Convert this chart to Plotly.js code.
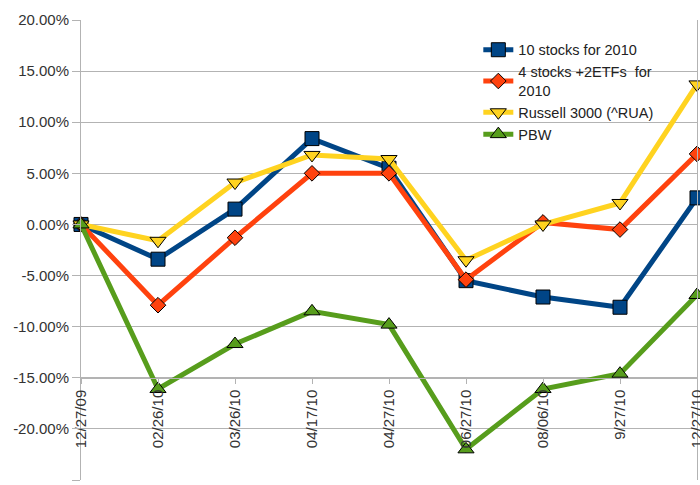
<!DOCTYPE html>
<html>
<head>
<meta charset="utf-8">
<script src="https://cdn.plot.ly/plotly-3.0.1.min.js"></script>
<style>html,body{margin:0;padding:0;background:#fff;}#chart{width:700px;height:485px;}</style>
</head>
<body>
<div id="chart"></div>
<script>
const dates = ["12/27/09","02/26/10","03/26/10","04/17/10","04/27/10","06/27/10","08/06/10","9/27/10","12/27/10"];
const tenStocks = [0, -3.4, 1.5, 8.4, 5.5, -5.5, -7.1, -8.1, 2.6];
const fourStocks = [0, -7.9, -1.3, 5.0, 5.0, -5.4, 0.2, -0.5, 6.9];
const russell = [0, -1.6, 4.1, 6.8, 6.4, -3.5, 0.0, 2.1, 13.7];
const pbw = [0, -16.1, -11.7, -8.5, -9.8, -22.0, -16.1, -14.6, -6.9];
const yTicks = [20, 15, 10, 5, 0, -5, -10, -15, -20, -25];

function series(name, y, color, symbol, size) {
  return {
    type: 'scatter', mode: 'lines+markers', name: name,
    x: dates, y: y,
    line: {color: color, width: 5},
    marker: {color: color, symbol: symbol, size: size, line: {color: '#000', width: 1}},
    cliponaxis: false
  };
}

const data = [
  series('10 stocks for 2010', tenStocks, '#004586', 'square', 14),
  series('4 stocks +2ETFs  for<br>2010', fourStocks, '#ff420e', 'diamond', 12),
  series('Russell 3000 (^RUA)', russell, '#ffd320', 'triangle-down', 14),
  series('PBW', pbw, '#579d1c', 'triangle-up', 14)
];

const layout = {
  width: 700, height: 485,
  margin: {l: 81, r: 3, t: 20, b: 5},
  paper_bgcolor: '#fff', plot_bgcolor: '#fff',
  font: {family: 'Liberation Sans, Arial, sans-serif', size: 15, color: '#333'},
  showlegend: true,
  legend: {
    x: 0.645, y: 0.97, xanchor: 'left', yanchor: 'top',
    bgcolor: 'rgba(0,0,0,0)', font: {size: 14.5, color: '#222'},
    tracegroupgap: 0, itemwidth: 30
  },
  xaxis: {
    type: 'category', range: [0, 8],
    anchor: 'free', position: 10/45,
    showgrid: false, zeroline: false,
    showline: true, linecolor: '#b3b3b3', linewidth: 1,
    ticks: 'outside', ticklen: 5, tickcolor: '#b3b3b3',
    tickangle: -90, tickfont: {size: 15, color: '#333'},
    fixedrange: true
  },
  yaxis: {
    range: [-25, 20],
    tickvals: yTicks,
    ticktext: yTicks.map(v => v.toFixed(2) + '%'),
    showgrid: true, gridcolor: '#b3b3b3', gridwidth: 1,
    zeroline: false,
    showline: true, linecolor: '#b3b3b3', linewidth: 1, mirror: true,
    ticks: 'outside', ticklen: 8, tickcolor: '#b3b3b3',
    tickfont: {size: 15, color: '#333'},
    fixedrange: true
  }
};

Plotly.newPlot('chart', data, layout, {displayModeBar: false, staticPlot: true});
</script>
</body>
</html>
